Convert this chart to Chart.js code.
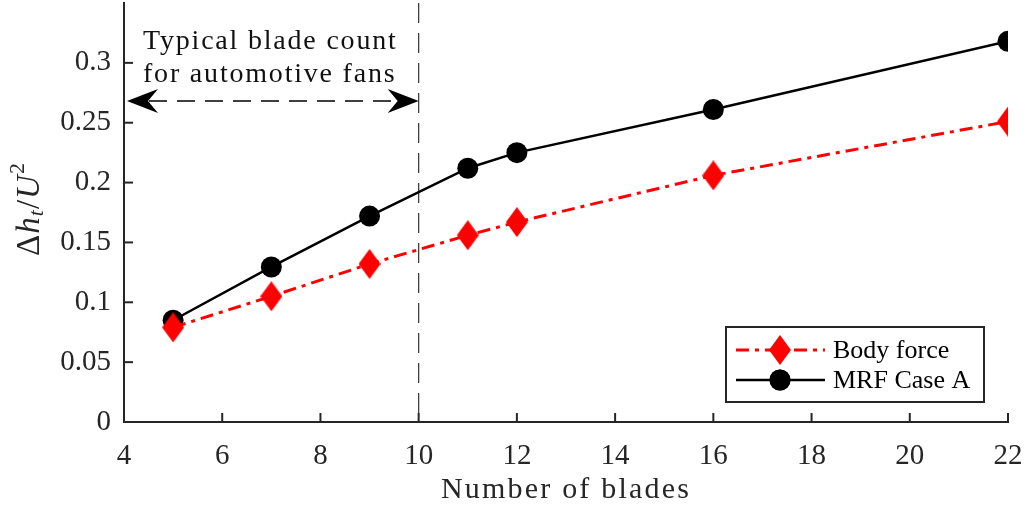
<!DOCTYPE html>
<html lang="en">
<head>
    <meta charset="UTF-8" />
    <title>Blade count vs total enthalpy rise</title>
    <script src="https://cdn.jsdelivr.net/npm/chart.js"></script>
    <style>
        html, body {
            margin: 0;
            padding: 0;
            background: #fff;
        }
        #wrap {
            width: 1026px;
            height: 508px;
        }
    </style>
</head>
<body>
    <div id="wrap"><canvas id="grafico"></canvas></div>

    <script>
        const blades = [5, 7, 9, 11, 12, 16, 22];
        const bodyForce = [0.079, 0.105, 0.132, 0.156, 0.167, 0.206, 0.251];
        const mrfCaseA = [0.085, 0.1295, 0.172, 0.212, 0.225, 0.261, 0.318];
        const xTicks = [4, 6, 8, 10, 12, 14, 16, 18, 20, 22];
        const yTicks = [0, 0.05, 0.1, 0.15, 0.2, 0.25, 0.3];
        const typicalLimit = 10;
        const noteLines = ['Typical blade count', 'for automotive fans'];

        const SERIF = '"Liberation Serif", "DejaVu Serif", serif';
        const AXIS = '#262626';

        // tall red diamond marker
        function makeDiamond(w, h, color) {
            const c = document.createElement('canvas');
            c.width = w;
            c.height = h;
            const g = c.getContext('2d');
            g.fillStyle = color;
            g.beginPath();
            g.moveTo(w / 2, 0);
            g.lineTo(w, h / 2);
            g.lineTo(w / 2, h);
            g.lineTo(0, h / 2);
            g.closePath();
            g.fill();
            return c;
        }
        const diamond = makeDiamond(22, 30, '#ff0000');

        // ticks pointing into the plot
        const inwardTicks = {
            id: 'inwardTicks',
            afterDraw(chart) {
                const { ctx, chartArea, scales } = chart;
                ctx.save();
                ctx.strokeStyle = AXIS;
                ctx.lineWidth = 2;
                xTicks.forEach(v => {
                    const px = scales.x.getPixelForValue(v);
                    ctx.beginPath();
                    ctx.moveTo(px, chartArea.bottom);
                    ctx.lineTo(px, chartArea.bottom - 9);
                    ctx.stroke();
                });
                yTicks.forEach(v => {
                    const py = scales.y.getPixelForValue(v);
                    ctx.beginPath();
                    ctx.moveTo(chartArea.left, py);
                    ctx.lineTo(chartArea.left + 9, py);
                    ctx.stroke();
                });
                ctx.restore();
            }
        };

        function arrowHead(ctx, tipX, y, dir) {
            ctx.beginPath();
            ctx.moveTo(tipX, y);
            ctx.lineTo(tipX + dir * 31, y - 12);
            ctx.lineTo(tipX + dir * 21, y);
            ctx.lineTo(tipX + dir * 31, y + 12);
            ctx.closePath();
            ctx.fill();
        }

        // dashed marker at x = 10, double arrow and the note above it
        const annotation = {
            id: 'annotation',
            beforeDatasetsDraw(chart) {
                const { ctx, chartArea, scales } = chart;
                const xl = scales.x.getPixelForValue(typicalLimit);
                ctx.save();
                ctx.strokeStyle = '#333';
                ctx.lineWidth = 1.2;
                ctx.setLineDash([20, 10]);
                ctx.beginPath();
                ctx.moveTo(xl, chartArea.top);
                ctx.lineTo(xl, chartArea.bottom);
                ctx.stroke();

                const ya = 101;
                const x0 = chartArea.left + 3;
                ctx.strokeStyle = '#000';
                ctx.lineWidth = 1.5;
                ctx.setLineDash([18, 10]);
                ctx.beginPath();
                ctx.moveTo(x0 + 22, ya);
                ctx.lineTo(xl - 22, ya);
                ctx.stroke();
                ctx.setLineDash([]);
                ctx.fillStyle = '#000';
                arrowHead(ctx, x0, ya, 1);
                arrowHead(ctx, xl, ya, -1);

                ctx.font = '28px ' + SERIF;
                ctx.letterSpacing = '1.8px';
                ctx.fillStyle = '#111';
                ctx.textAlign = 'left';
                ctx.textBaseline = 'middle';
                ctx.fillText(noteLines[0], 143, 42);
                ctx.fillText(noteLines[1], 143, 75);
                ctx.restore();
            }
        };

        // axis titles and the legend box
        const labels = {
            id: 'labels',
            afterDraw(chart) {
                const { ctx, chartArea } = chart;
                ctx.save();
                ctx.fillStyle = AXIS;
                ctx.font = '30px ' + SERIF;
                ctx.letterSpacing = '2.2px';
                ctx.textAlign = 'center';
                ctx.textBaseline = 'middle';
                ctx.fillText('Number of blades', (chartArea.left + chartArea.right) / 2, 490);
                ctx.letterSpacing = '0px';

                // y title: Δh_t / U²
                ctx.translate(30, 209);
                ctx.rotate(-Math.PI / 2);
                const parts = [
                    { t: 'Δ', f: '33px ' + SERIF, dy: 0 },
                    { t: 'h', f: 'italic 33px ' + SERIF, dy: 0 },
                    { t: 't', f: 'italic 22px ' + SERIF, dy: 7 },
                    { t: '/', f: '33px ' + SERIF, dy: 0 },
                    { t: 'U', f: 'italic 33px ' + SERIF, dy: 0 },
                    { t: '2', f: '22px ' + SERIF, dy: -12 }
                ];
                let total = 0;
                parts.forEach(p => { ctx.font = p.f; p.w = ctx.measureText(p.t).width + 1; total += p.w; });
                let cx = -total / 2;
                ctx.textAlign = 'left';
                parts.forEach(p => {
                    ctx.font = p.f;
                    ctx.fillText(p.t, cx, p.dy);
                    cx += p.w;
                });
                ctx.restore();

                // legend
                const lx = 726, ly = 327, lw = 258, lh = 75;
                ctx.save();
                ctx.fillStyle = '#fff';
                ctx.fillRect(lx, ly, lw, lh);
                ctx.strokeStyle = AXIS;
                ctx.lineWidth = 2;
                ctx.strokeRect(lx, ly, lw, lh);
                ctx.font = '26px ' + SERIF;
                ctx.textAlign = 'left';
                ctx.textBaseline = 'middle';
                chart.data.datasets.forEach((ds, i) => {
                    const ry = ly + 23 + i * 30;
                    ctx.strokeStyle = ds.borderColor;
                    ctx.lineWidth = ds.borderWidth;
                    ctx.setLineDash(ds.borderDash || []);
                    ctx.beginPath();
                    ctx.moveTo(lx + 10, ry);
                    ctx.lineTo(lx + 99, ry);
                    ctx.stroke();
                    ctx.setLineDash([]);
                    Chart.helpers.drawPoint(ctx, {
                        pointStyle: ds.pointStyle,
                        radius: ds.pointRadius,
                        rotation: 0,
                        borderWidth: 0
                    }, lx + 54, ry);
                    ctx.fillStyle = ds.pointBackgroundColor;
                    ctx.fill();
                    ctx.fillStyle = '#000';
                    ctx.fillText(ds.label, lx + 107, ry + 1);
                });
                ctx.restore();
            }
        };

        function fixBox(s) {
            s.paddingTop = 0;
            s.paddingBottom = 0;
            s.paddingLeft = 0;
            s.paddingRight = 0;
        }

        const ctx = document.getElementById('grafico').getContext('2d');
        new Chart(ctx, {
            type: 'line',
            data: {
                datasets: [
                    {
                        label: 'Body force',
                        data: blades.map((b, i) => ({ x: b, y: bodyForce[i] })),
                        borderColor: '#ff0000',
                        borderWidth: 3,
                        borderDash: [13, 6, 4, 6],
                        pointStyle: diamond,
                        pointRadius: 13,
                        pointBackgroundColor: '#ff0000',
                        pointBorderWidth: 0,
                        tension: 0
                    },
                    {
                        label: 'MRF Case A',
                        data: blades.map((b, i) => ({ x: b, y: mrfCaseA[i] })),
                        borderColor: '#000000',
                        borderWidth: 2.5,
                        pointStyle: 'circle',
                        pointRadius: 10.5,
                        pointBackgroundColor: '#000000',
                        pointBorderWidth: 0,
                        tension: 0
                    }
                ]
            },
            options: {
                responsive: true,
                maintainAspectRatio: false,
                animation: false,
                events: [],
                layout: {
                    autoPadding: false,
                    padding: { top: 3, right: 18, left: 0, bottom: 0 }
                },
                plugins: {
                    legend: { display: false },
                    tooltip: { enabled: false }
                },
                scales: {
                    x: {
                        type: 'linear',
                        min: 4,
                        max: 22,
                        afterFit: s => { s.height = 86; fixBox(s); },
                        afterBuildTicks: s => { s.ticks = xTicks.map(v => ({ value: v })); },
                        grid: { display: false, drawTicks: false },
                        border: { display: true, color: AXIS, width: 2 },
                        ticks: {
                            color: AXIS,
                            padding: 17,
                            maxRotation: 0,
                            font: { family: SERIF, size: 29 }
                        }
                    },
                    y: {
                        min: 0,
                        max: 0.35,
                        afterFit: s => { s.width = 124; fixBox(s); },
                        afterBuildTicks: s => { s.ticks = yTicks.map(v => ({ value: v })); },
                        grid: { display: false, drawTicks: false },
                        border: { display: true, color: AXIS, width: 2 },
                        ticks: {
                            color: AXIS,
                            padding: 13,
                            font: { family: SERIF, size: 29 },
                            callback: v => String(parseFloat(v.toFixed(2)))
                        }
                    }
                }
            },
            plugins: [inwardTicks, annotation, labels]
        });
    </script>
</body>
</html>
